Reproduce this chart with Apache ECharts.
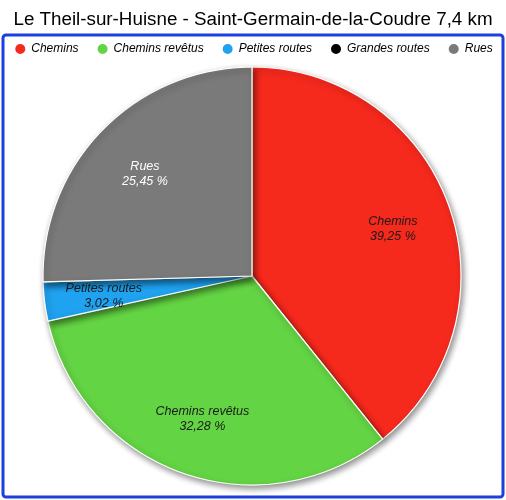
<!DOCTYPE html>
<html><head><meta charset="utf-8">
<script src="https://cdn.jsdelivr.net/npm/echarts@6/dist/echarts.min.js"></script>
<style>html,body{margin:0;padding:0;background:#fff;}#c{width:506px;height:500px;}</style>
</head><body><div id="c"></div>
<script>
const titleText = "Le Theil-sur-Huisne - Saint-Germain-de-la-Coudre 7,4 km";
const categories = ["Chemins", "Chemins revêtus", "Petites routes", "Grandes routes", "Rues"];
const values = [39.25, 32.28, 3.02, 0, 25.45];
const colors = ["#f6291d", "#63d443", "#1fa2f0", "#000000", "#7a7a7a"];
const labelColors = ["#1a1a1a", "#1a1a1a", "#1a1a1a", "#1a1a1a", "#ffffff"];

const fmt = p => p.name + "\n" + p.value.toFixed(2).replace(".", ",") + " %";
const data = categories.map((c, i) => ({
  name: c, value: values[i], itemStyle: { color: colors[i] }
}));
const labelData = categories.map((c, i) => ({
  name: c, value: values[i],
  itemStyle: { color: "rgba(0,0,0,0)", borderWidth: 0 },
  label: { show: values[i] > 0, color: labelColors[i] }
}));

const chart = echarts.init(document.getElementById("c"), null, { renderer: "canvas" });
const R = 209;
chart.setOption({
  animation: false,
  title: {
    text: titleText, left: "center", top: 5,
    textStyle: { fontFamily: "Liberation Sans", fontSize: 18.8, fontWeight: "normal", color: "#000" }
  },
  graphic: [{
    type: "rect", shape: { x: 3, y: 35, width: 500, height: 462, r: 3 },
    style: { fill: "none", stroke: "#1c3fe0", lineWidth: 3 }, z: 100
  }],
  legend: {
    data: categories, top: 37, left: "center", itemGap: 17,
    icon: "circle", itemWidth: 12, itemHeight: 12,
    textStyle: { fontFamily: "Liberation Sans", fontStyle: "italic", fontSize: 12, color: "#000" }
  },
  series: [{
    type: "pie", center: [252, 276], radius: [0, R], startAngle: 90, clockwise: true,
    silent: true, data: data, minAngle: 0, avoidLabelOverlap: false,
    itemStyle: { borderColor: "#fff", borderWidth: 1.2, shadowColor: "rgba(0,0,0,0.45)", shadowBlur: 6, shadowOffsetX: 2, shadowOffsetY: 3 },
    label: { show: false }, labelLine: { show: false }
  }, {
    type: "pie", center: [252, 278], radius: [R * 0.4, R], startAngle: 90, clockwise: true,
    silent: true, data: labelData, avoidLabelOverlap: false, z: 5,
    label: { show: true, position: "inside", formatter: fmt, fontFamily: "Liberation Sans", fontStyle: "italic", fontSize: 12.5, lineHeight: 15 },
    labelLine: { show: false }
  }]
});
</script></body></html>
